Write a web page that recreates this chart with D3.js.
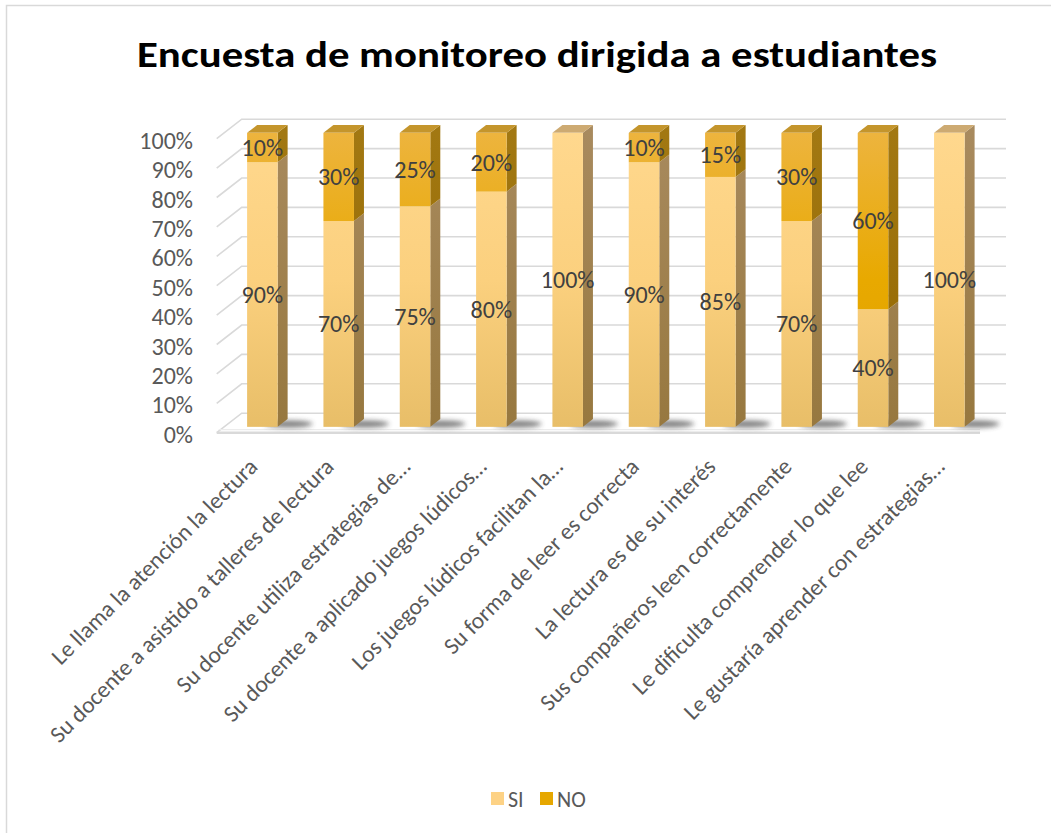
<!DOCTYPE html>
<html>
<head>
<meta charset="utf-8">
<script src="https://d3js.org/d3.v7.min.js"></script>
<style>
    body { margin: 0; background: #fff; overflow: hidden; }
    svg { display: block; }
    text { font-family: Carlito, Calibri, Lato, sans-serif; }
</style>
</head>
<body>
<div id="chart"></div>
<script>
// datos de la encuesta
const categories = [
    "Le llama la atención la lectura",
    "Su docente a asistido a talleres de lectura",
    "Su docente utiliza estrategias de…",
    "Su docente a aplicado juegos lúdicos…",
    "Los juegos lúdicos facilitan la…",
    "Su forma de leer es correcta",
    "La lectura es de su interés",
    "Sus compañeros leen correctamente",
    "Le dificulta comprender lo que lee",
    "Le gustaría aprender con estrategias…"
];
const siValues = [90, 70, 75, 80, 100, 90, 85, 70, 40, 100];
const noValues = [10, 30, 25, 20, 0, 10, 15, 30, 60, 0];
const yTicks = [0, 10, 20, 30, 40, 50, 60, 70, 80, 90, 100];
const seriesNames = ["SI", "NO"];

const width = 1051, height = 833;

const svg = d3.select("#chart").append("svg")
    .attr("width", width)
    .attr("height", height);

// borde del grafico
svg.append("rect")
    .attr("x", 6.5).attr("y", 5.5)
    .attr("width", width + 10).attr("height", height + 10)
    .attr("fill", "#fff")
    .attr("stroke", "#d9d9d9")
    .attr("stroke-width", 1.5);

// perspectiva 3D: desplazamiento de profundidad
const DX = 25, DY = -19.5;
const d0 = 0.3, d1 = 0.7;   // frente y fondo de las barras

const x = d3.scaleBand()
    .domain(categories)
    .range([216.7, 980])
    .paddingInner(0.6)
    .paddingOuter(0.3);

const y = d3.scaleLinear()
    .domain([0, 100])
    .range([432.7, 138.7]);

const defs = svg.append("defs");

function grad(id, stops, y1, y2) {
    const g = defs.append("linearGradient")
        .attr("id", id)
        .attr("gradientUnits", "userSpaceOnUse")
        .attr("x1", 0).attr("x2", 0)
        .attr("y1", y1).attr("y2", y2);
    stops.forEach(s => g.append("stop").attr("offset", s[0]).attr("stop-color", s[1]));
}
grad("siFront", [[0, "#ffd88e"], [0.5, "#fbd07e"], [1, "#e8be68"]], y(100) - 6, y(0) - 6);
grad("siSide", [[0, "#a88a5e"], [1, "#97783f"]], y(100) - 6, y(0) - 6);
grad("noFront", [[0, "#edb43e"], [0.5, "#e8a900"], [1, "#e0a000"]], y(100) - 6, y(0) - 6);
grad("noSide", [[0, "#a27812"], [1, "#946800"]], y(100) - 6, y(0) - 6);

const blur = defs.append("filter").attr("id", "blur")
    .attr("x", "-50%").attr("y", "-100%").attr("width", "200%").attr("height", "300%");
blur.append("feGaussianBlur").attr("stdDeviation", 2.5);

// paredes y lineas de cuadricula
const grid = svg.append("g");
const x0 = x.range()[0], xEnd = x.range()[1];

yTicks.forEach(t => {
    const yy = y(t);
    grid.append("polyline")
        .attr("points", `${x0},${yy} ${x0 + DX},${yy + DY} ${xEnd + DX + 1},${yy + DY}`)
        .attr("fill", "none")
        .attr("stroke", "#d9d9d9")
        .attr("stroke-width", 1.6);
});

// piso
grid.append("line")
    .attr("x1", x0).attr("x2", xEnd)
    .attr("y1", y(0)).attr("y2", y(0))
    .attr("stroke", "#d9d9d9").attr("stroke-width", 2.5);
grid.append("line")
    .attr("x1", x0 + 2).attr("x2", xEnd)
    .attr("y1", y(0) - 3).attr("y2", y(0) - 3)
    .attr("stroke", "#ececec").attr("stroke-width", 1.2);

// sombras de las barras
svg.append("g").selectAll("ellipse")
    .data(categories)
    .join("ellipse")
    .attr("cx", d => x(d) + x.bandwidth() + DX * 0.5 + 6)
    .attr("cy", y(0) + DY * 0.5 + 1)
    .attr("rx", 24)
    .attr("ry", 3.5)
    .attr("fill", "#3a3a3a")
    .attr("opacity", 0.65)
    .attr("filter", "url(#blur)");

// construir segmentos apilados
const segments = [];
categories.forEach((c, i) => {
    segments.push({cat: c, s: 0, lo: 0, hi: siValues[i], v: siValues[i]});
    segments.push({cat: c, s: 1, lo: siValues[i], hi: siValues[i] + noValues[i], v: noValues[i]});
});

const bars = svg.append("g");
const fills = [
    {front: "url(#siFront)", side: "url(#siSide)", top: "#cdaa72"},
    {front: "url(#noFront)", side: "url(#noSide)", top: "#c4952c"}
];

segments.filter(d => d.v > 0).forEach(d => {
    const xl = x(d.cat) + DX * d0, xr = xl + x.bandwidth();
    const yt = y(d.hi) + DY * d0, yb = y(d.lo) + DY * d0;
    const ox = DX * (d1 - d0), oy = DY * (d1 - d0);
    const g = bars.append("g");
    // cara lateral
    g.append("polygon")
        .attr("points", `${xr},${yb} ${xr + ox},${yb + oy} ${xr + ox},${yt + oy} ${xr},${yt}`)
        .attr("fill", fills[d.s].side);
    // cara superior
    if (d.hi === 100) {
        g.append("polygon")
            .attr("points", `${xl},${yt} ${xl + ox},${yt + oy} ${xr + ox},${yt + oy} ${xr},${yt}`)
            .attr("fill", fills[d.s].top);
    }
    // cara frontal
    g.append("rect")
        .attr("x", xl).attr("y", yt)
        .attr("width", x.bandwidth()).attr("height", yb - yt)
        .attr("fill", fills[d.s].front);
});

// etiquetas de datos
svg.append("g").selectAll("text")
    .data(segments.filter(d => d.v > 0))
    .join("text")
    .attr("x", d => x(d.cat) + DX * d0 + x.bandwidth() / 2)
    .attr("y", d => y((d.lo + d.hi) / 2) + DY * d0)
    .attr("dy", "0.35em")
    .attr("text-anchor", "middle")
    .attr("font-size", 24)
    .attr("fill", "#404040")
    .text(d => d.v + "%");

// eje Y
const yAxis = svg.append("g")
    .attr("transform", "translate(193,2)")
    .call(d3.axisLeft(y).tickValues(yTicks).tickSize(0).tickPadding(0).tickFormat(d => d + "%"));
yAxis.select(".domain").remove();
yAxis.selectAll("text")
    .attr("font-family", "Carlito, Calibri, Lato, sans-serif")
    .attr("font-size", 24)
    .attr("fill", "#595959");

// eje X con etiquetas rotadas
const xAxis = svg.append("g")
    .attr("transform", "translate(0,468)")
    .call(d3.axisBottom(x).tickSize(0));
xAxis.select(".domain").remove();
xAxis.selectAll("text")
    .attr("x", 0).attr("y", 0).attr("dy", 0)
    .attr("text-anchor", "end")
    .attr("transform", "translate(4,0) rotate(-45)")
    .attr("font-family", "Carlito, Calibri, Lato, sans-serif")
    .attr("font-size", 23.3)
    .attr("fill", "#595959");

// titulo
svg.append("text")
    .attr("x", 537).attr("y", 67)
    .attr("text-anchor", "middle")
    .attr("font-size", 37)
    .attr("font-weight", "bold")
    .attr("fill", "#000")
    .attr("textLength", 800)
    .attr("lengthAdjust", "spacingAndGlyphs")
    .text("Encuesta de monitoreo dirigida a estudiantes");

// leyenda
const legend = svg.append("g").attr("transform", "translate(491,792)");
const legendX = [0, 49];
seriesNames.forEach((n, i) => {
    legend.append("rect")
        .attr("x", legendX[i]).attr("y", 0)
        .attr("width", 13).attr("height", 13)
        .attr("fill", i === 0 ? "#fdd285" : "#e6a700");
    legend.append("text")
        .attr("x", legendX[i] + 17).attr("y", 7)
        .attr("dy", "0.35em")
        .attr("font-size", 22)
        .attr("fill", "#595959")
        .text(n);
});
</script>
</body>
</html>
